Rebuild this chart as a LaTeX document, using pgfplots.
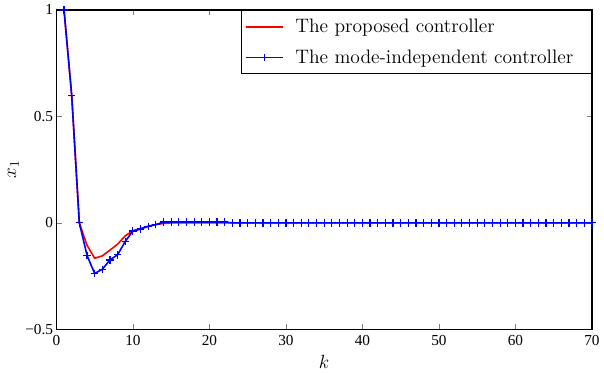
\documentclass[border=0pt]{standalone}
\usepackage{fontspec}
\usepackage{pgfplots}
\pgfplotsset{compat=1.18}
\newfontfamily\tickfont{Liberation Serif}
\definecolor{cred}{rgb}{1,0,0}
\definecolor{cblue}{rgb}{0,0,1}
\begin{document}
\begin{tikzpicture}
\begin{axis}[
  scale only axis,
  width=403.7pt, height=240.75pt,
  xmin=0, xmax=70, ymin=-0.5, ymax=1,
  xtick={0,10,...,70},
  ytick={-0.5,0,0.5,1},
  yticklabels={\textminus0.5,0,0.5,1},
  /pgf/number format/assume math mode=true,
  tick label style={font=\tickfont\fontsize{11.5}{13}\selectfont},
  yticklabel style={xshift=1pt},
  xticklabel style={yshift=-1pt},
  tick align=inside,
  major tick length=4pt,
  axis line style={line width=0.9pt},
  xlabel={\Large $k$},
  ylabel={\Large $x_1$},
  xlabel style={yshift=0pt},
  ylabel style={yshift=-2pt},
  legend cell align=left,
  legend image code/.code={\draw[mark repeat=2,mark phase=2,line width=1.2pt,#1] plot coordinates {(0cm,0cm) (0.49cm,0cm) (0.98cm,0cm)};},
  legend style={at={(1,1)}, anchor=north east, font=\fontsize{14.7}{17}\selectfont, inner xsep=2.75pt, inner ysep=5.6pt, row sep=9.3pt, column sep=6.25pt,
    nodes={inner ysep=1pt, inner xsep=2.5pt}, draw=black, line width=0.7pt},
]
\addplot[draw=cred, line width=1.2pt, mark=none] coordinates {
(1,1) (2,0.6) (3,0) (4,-0.105) (5,-0.166) (6,-0.155) (7,-0.128) (8,-0.10) (9,-0.061) (10,-0.037)
(11,-0.027) (12,-0.016) (13,-0.008) (14,-0.003) (15,0) (16,0) (17,0) (18,0) (19,0) (20,0)
(21,0) (22,0) (23,0) (24,0) (25,0) (26,0) (27,0) (28,0) (29,0) (30,0)
(31,0) (32,0) (33,0) (34,0) (35,0) (36,0) (37,0) (38,0) (39,0) (40,0)
(41,0) (42,0) (43,0) (44,0) (45,0) (46,0) (47,0) (48,0) (49,0) (50,0)
(51,0) (52,0) (53,0) (54,0) (55,0) (56,0) (57,0) (58,0) (59,0) (60,0)
(61,0) (62,0) (63,0) (64,0) (65,0) (66,0) (67,0) (68,0) (69,0) (70,0)
};
\addlegendentry{The proposed controller}
\addplot[draw=cblue, line width=1.2pt, mark=+, mark size=2.8pt, mark options={solid, draw=cblue, line width=0.9pt}] coordinates {
(1,1) (2,0.6) (3,0) (4,-0.152) (5,-0.2375) (6,-0.218) (7,-0.174) (8,-0.150) (9,-0.087) (10,-0.038)
(11,-0.029) (12,-0.016) (13,-0.008) (14,0.004) (15,0.004) (16,0.004) (17,0.004) (18,0.004) (19,0.004) (20,0.004)
(21,0.004) (22,0.004) (23,0) (24,0) (25,0) (26,0) (27,0) (28,0) (29,0) (30,0)
(31,0) (32,0) (33,0) (34,0) (35,0) (36,0) (37,0) (38,0) (39,0) (40,0)
(41,0) (42,0) (43,0) (44,0) (45,0) (46,0) (47,0) (48,0) (49,0) (50,0)
(51,0) (52,0) (53,0) (54,0) (55,0) (56,0) (57,0) (58,0) (59,0) (60,0)
(61,0) (62,0) (63,0) (64,0) (65,0) (66,0) (67,0) (68,0) (69,0) (70,0)
};
\addlegendentry{The mode-independent controller\hspace*{8.5pt}}
\end{axis}
\path (current axis.south west) ++(-42.5pt,-32.25pt) coordinate (bb1);
\path (current axis.north east) ++(6.75pt,7.5pt) coordinate (bb2);
\end{tikzpicture}
\end{document}
